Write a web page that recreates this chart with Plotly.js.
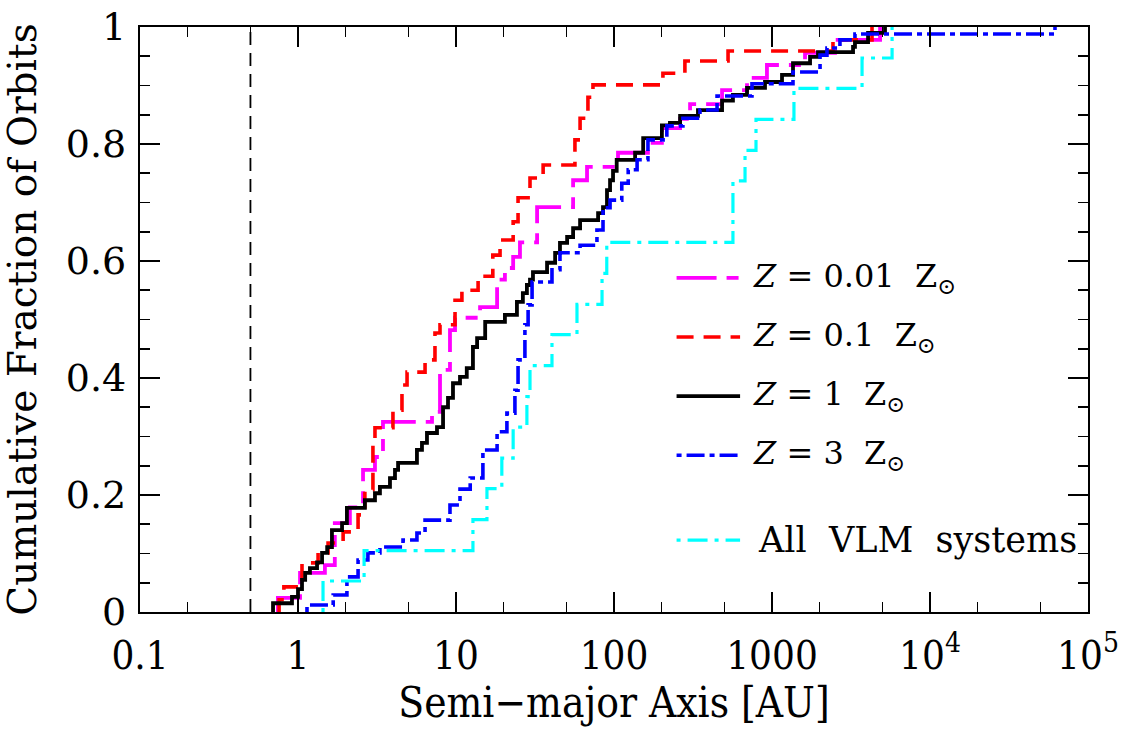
<!DOCTYPE html>
<html>
<head>
<meta charset="utf-8">
<script src="https://cdn.plot.ly/plotly-3.0.1.min.js"></script>
<style>html,body{margin:0;padding:0;background:#fff;}#plot{width:1125px;height:731px;}</style>
</head>
<body>
<div id="plot"></div>
<script>
// Semi-major axis [AU] at each step, and the cumulative fraction reached there
const z001A = [0.746,1.03,1.48,1.71,2.13,2.58,3.07,3.45,7.05,7.92,9.16,9.86,14.2,18.2,20.4,23.0,25.4,32.6,55.1,67.5,106,164,201,262,303,483,695,929,1618,2506,4831];
const z001F = [0.024,0.067,0.080,0.152,0.179,0.243,0.265,0.325,0.342,0.414,0.482,0.503,0.521,0.568,0.588,0.607,0.632,0.692,0.738,0.761,0.785,0.802,0.827,0.843,0.868,0.892,0.913,0.935,0.956,0.978,1.0];

const z01A = [0.759,0.814,1.06,1.34,1.55,1.93,2.40,2.65,2.98,3.07,3.99,4.55,4.90,6.37,7.36,7.92,9.86,10.9,13.8,17.1,19.0,23.0,24.7,29.4,35.6,56.6,61.0,68.4,73.6,204,281,527,2432,4295];
const z01F = [0.021,0.043,0.084,0.101,0.118,0.137,0.166,0.209,0.285,0.315,0.345,0.388,0.410,0.431,0.477,0.491,0.533,0.550,0.574,0.610,0.636,0.667,0.708,0.742,0.764,0.807,0.844,0.880,0.901,0.921,0.942,0.959,0.978,1.0];

const z1A = [0.695,0.916,1.0,1.06,1.11,1.19,1.32,1.42,1.53,1.64,1.90,2.04,2.65,3.07,3.30,3.82,4.11,4.30,5.66,6.09,6.55,7.58,8.28,8.90,9.57,10.6,11.7,12.8,13.6,15.3,20.4,24.3,26.5,28.1,29.4,30.7,37.7,42.4,45.5,50.5,55.1,61.0,79.3,85.2,90.3,94.4,98.6,104,136,153,201,226,262,340,483,566,695,903,1157,1358,1741,1955,3258,3350,4055,5190];
const z1F = [0.015,0.026,0.039,0.055,0.067,0.075,0.085,0.101,0.111,0.140,0.152,0.178,0.191,0.203,0.214,0.229,0.243,0.255,0.277,0.289,0.306,0.316,0.350,0.366,0.391,0.402,0.417,0.453,0.468,0.496,0.508,0.530,0.545,0.559,0.568,0.581,0.597,0.614,0.631,0.641,0.656,0.670,0.682,0.692,0.721,0.738,0.754,0.773,0.785,0.810,0.832,0.836,0.848,0.858,0.874,0.884,0.896,0.906,0.918,0.938,0.949,0.957,0.966,0.974,0.990,1.0];

const z3A = [1.14,1.67,2.04,2.40,2.77,3.30,4.62,5.66,6.37,9.16,10.6,12.3,14.8,18.2,21.0,23.6,24.7,27.3,28.6,30.3,40.5,45.5,61.0,78.0,85.2,94.4,112,123,140,164,216,273,350,449,747,1358,2014,2228,2692,3350,6745,61800];
const z3F = [0.012,0.029,0.060,0.089,0.101,0.111,0.123,0.135,0.157,0.183,0.210,0.229,0.277,0.308,0.340,0.379,0.431,0.491,0.525,0.564,0.585,0.614,0.627,0.653,0.691,0.704,0.733,0.756,0.773,0.807,0.831,0.844,0.858,0.882,0.903,0.923,0.952,0.964,0.978,0.988,0.988,1.0];

const vlmA = [1.44,2.62,12.8,15.7,19.5,23.0,28.1,29.4,40.5,58.3,84,90,566,566,675,792,1377,3715,5754];
const vlmF = [0.053,0.105,0.158,0.211,0.263,0.316,0.368,0.421,0.474,0.526,0.579,0.632,0.684,0.737,0.789,0.842,0.895,0.947,1.0];

const limitAU = 0.5;
const xTickVals = [0.1,1,10,100,1000,10000,100000];
const xTickText = ['0.1','1','10','100','1000','10<sup>4</sup>','10<sup>5</sup>'];
const yTickVals = [0,0.2,0.4,0.6,0.8,1];
const yTickText = ['0','0.2','0.4','0.6','0.8','1'];

const seriesNames = ['<i>Z</i>\u00a0=\u00a00.01\u00a0\u00a0Z<sub>\u2299</sub>','<i>Z</i>\u00a0=\u00a00.1\u00a0\u00a0Z<sub>\u2299</sub>','<i>Z</i>\u00a0=\u00a01\u00a0\u00a0Z<sub>\u2299</sub>','<i>Z</i>\u00a0=\u00a03\u00a0\u00a0Z<sub>\u2299</sub>','All\u00a0\u00a0VLM\u00a0\u00a0systems'];
const seriesColors = ['#ff00ff','#ff0000','#000000','#0000ff','#00ffff'];
const seriesDash = ['40px,10px,12px,10px','17px,10px','solid','5px,5px,18px,5px','4px,7px,20px,7px'];
const seriesWidth = [3.8,3.6,3.8,3.6,3.2];
const seriesA = [z001A,z01A,z1A,z3A,vlmA];
const seriesF = [z001F,z01F,z1F,z3F,vlmF];

const FONT = 'DejaVu Serif, serif';
const FONTC = 'DejaVu Serif Condensed, DejaVu Serif, serif';
const traces = [];
for (let k = 0; k < seriesA.length; k++) {
  const xs = [seriesA[k][0]].concat(seriesA[k]);
  const ys = [0].concat(seriesF[k]);
  traces.push({x: xs, y: ys, mode: 'lines', line: {shape: 'hv', color: seriesColors[k], width: seriesWidth[k], dash: seriesDash[k]}, name: seriesNames[k], showlegend: false, hoverinfo: 'skip'});
}
traces.push({x: [limitAU, limitAU], y: [0, 1], mode: 'lines', line: {color: 'black', width: 1.8, dash: '13px,8px'}, showlegend: false, hoverinfo: 'skip'});
// invisible trace to carry the mirrored (top/right) tick axes
traces.push({x: [limitAU], y: [0], xaxis: 'x2', yaxis: 'y2', mode: 'markers', marker: {opacity: 0}, showlegend: false, hoverinfo: 'skip'});

// manual legend (paper coordinates)
const legRows = [0.571, 0.470, 0.369, 0.268, 0.123];
const shapes = [];
const annotations = [];
for (let k = 0; k < seriesNames.length; k++) {
  shapes.push({type: 'line', xref: 'paper', yref: 'paper', x0: 0.566, x1: 0.633, y0: legRows[k], y1: legRows[k], line: {color: seriesColors[k], width: seriesWidth[k], dash: seriesDash[k]}});
  annotations.push({xref: 'paper', yref: 'paper', x: k === 4 ? 0.650 : 0.644, y: legRows[k], xanchor: 'left', yanchor: 'middle', text: seriesNames[k], showarrow: false, font: {family: FONT, size: k === 4 ? 35 : 32, color: 'black'}});
}

const tickCommon = {ticks: 'inside', ticklen: 20, tickwidth: 1.6, tickcolor: 'black', showgrid: false, zeroline: false};
const layout = {
  width: 1125, height: 731,
  margin: {l: 140, r: 37, t: 27, b: 119},
  paper_bgcolor: 'white', plot_bgcolor: 'white',
  showlegend: false,
  xaxis: Object.assign({
    type: 'log', range: [-1, 5], tickvals: xTickVals, ticktext: xTickText,
    minor: {ticks: 'inside', ticklen: 10, tickwidth: 1.6, tickcolor: 'black', showgrid: false},
    showline: true, linecolor: 'black', linewidth: 2.2, mirror: true,
    ticklabelstandoff: 7,
    tickfont: {family: FONTC, size: 40, color: 'black'},
    title: {text: 'Semi\u2212major Axis [AU]', font: {family: FONTC, size: 42, color: 'black'}, standoff: 4}
  }, tickCommon),
  yaxis: Object.assign({
    range: [0, 1], tickvals: yTickVals, ticktext: yTickText,
    minor: {ticks: 'inside', ticklen: 10, tickwidth: 1.6, tickcolor: 'black', dtick: 0.05, showgrid: false},
    showline: true, linecolor: 'black', linewidth: 2.2, mirror: true,
    ticklabelstandoff: 4,
    tickfont: {family: FONT, size: 38, color: 'black'},
    title: {text: 'Cumulative Fraction of Orbits', font: {family: FONT, size: 39, color: 'black'}, standoff: 20}
  }, tickCommon),
  xaxis2: Object.assign({
    type: 'log', range: [-1, 5], tickvals: xTickVals, overlaying: 'x', side: 'top', showticklabels: false,
    minor: {ticks: 'inside', ticklen: 10, tickwidth: 1.6, tickcolor: 'black', showgrid: false}
  }, tickCommon),
  yaxis2: Object.assign({
    range: [0, 1], tickvals: yTickVals, overlaying: 'y', side: 'right', showticklabels: false,
    minor: {ticks: 'inside', ticklen: 10, tickwidth: 1.6, tickcolor: 'black', dtick: 0.05, showgrid: false}
  }, tickCommon),
  shapes: shapes,
  annotations: annotations
};

Plotly.newPlot('plot', traces, layout, {staticPlot: true, displayModeBar: false});
</script>
</body>
</html>
